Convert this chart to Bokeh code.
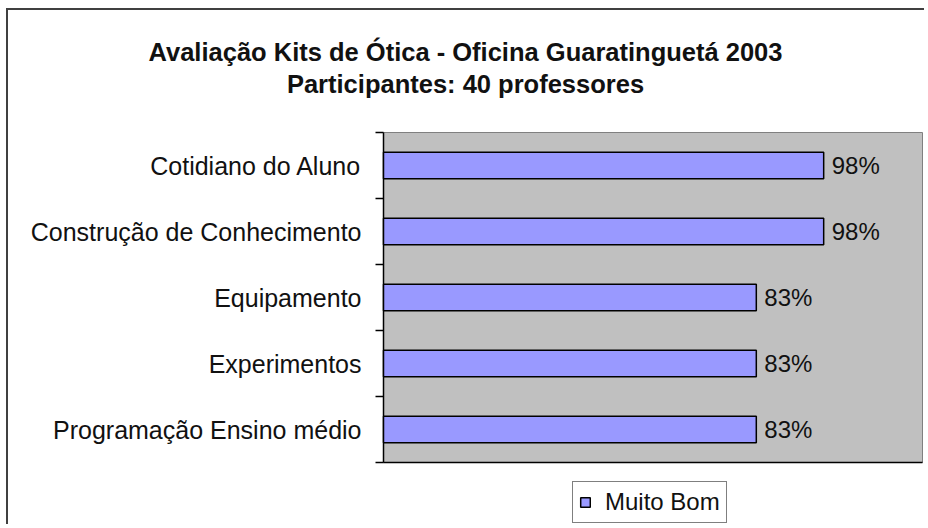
import math
from bokeh.plotting import figure
from bokeh.models import Range1d, Legend, LegendItem
from bokeh.core.properties import value
from bokeh.embed import file_html
from bokeh.resources import INLINE

# ---- data ----
categories = ["Cotidiano do Aluno", "Construção de Conhecimento", "Equipamento",
              "Experimentos", "Programação Ensino médio"]
values = [0.98, 0.98, 0.83, 0.83, 0.83]
value_labels = ["98%", "98%", "83%", "83%", "83%"]
series_name = "Muito Bom"
title_lines = ["Avaliação Kits de Ótica - Oficina Guaratinguetá 2003",
               "Participantes: 40 professores"]

# ---- layout (pixels) ----
FONT = "Liberation Sans"
W, H = 918, 516
XMAX = 1.2
AREA_LEFT, AREA_RIGHT, AREA_TOP = 375, 914, 122   # grey plot area in canvas px
CAT_PX = 66                                       # height of one category band
n = len(categories)
centers = [i + 0.5 for i in range(n)]
bounds = list(range(n + 1))
PX_X = (AREA_RIGHT - AREA_LEFT) / XMAX

p = figure(width=W, height=H, output_backend="svg", toolbar_location=None,
           x_range=Range1d(-AREA_LEFT / PX_X, XMAX + (W - AREA_RIGHT) / PX_X),
           y_range=Range1d(n + (H - AREA_TOP - n * CAT_PX) / CAT_PX, -AREA_TOP / CAT_PX),
           x_axis_location=None, y_axis_location=None,
           min_border=0, title=None)
p.styles = {"margin-left": "6px", "margin-top": "8px",
            "border-top": "2px solid #404040", "border-left": "2px solid #404040"}

p.background_fill_color = "white"
p.border_fill_color = "white"
p.outline_line_color = None
p.grid.visible = False

# grey plot area with its edges
p.quad(left=0, right=XMAX, top=0, bottom=n, fill_color="#C0C0C0",
       line_color="#808080", line_width=1)
p.segment(x0=0, y0=n, x1=XMAX, y1=n, line_color="black", line_width=1.5)
p.segment(x0=0, y0=0, x1=0, y1=n, line_color="black", line_width=1.5)

# category-boundary tick marks and category labels
p.ray(x=[0] * len(bounds), y=bounds, length=8, length_units="screen",
      angle=math.pi, line_color="black", line_width=1.5)
p.text(x=[0] * n, y=centers, text=categories, x_offset=-22,
       text_align="right", text_baseline="middle",
       text_font=value(FONT), text_font_size="25px", text_color="#111111")

bars = p.hbar(y=centers, right=values, left=0, height=0.4,
              fill_color="#9999FF", line_color="black", line_width=1.5)

p.text(x=values, y=centers, text=value_labels, x_offset=8,
       text_baseline="middle", text_align="left",
       text_font=value(FONT), text_font_size="24px", text_color="#111111")

# two-line title, centred over the chart
p.text(x=[0, 0], y=[0, 0], text=title_lines, x_offset=82, y_offset=[-81, -49],
       text_align="center", text_baseline="alphabetic",
       text_font=value(FONT), text_font_size="25.5px", text_font_style="bold",
       text_color="#111111")

legend = Legend(items=[LegendItem(label=series_name, renderers=[bars])],
                location=(564, 3), orientation="horizontal",
                label_text_font=FONT, label_text_font_size="24px",
                label_text_color="#111111",
                glyph_width=12, glyph_height=12, label_standoff=14,
                padding=6, spacing=0, margin=0,
                border_line_color="black", border_line_width=1.5,
                background_fill_color="white", background_fill_alpha=1)
p.add_layout(legend)

open("out.html", "w").write(file_html(p, INLINE))
